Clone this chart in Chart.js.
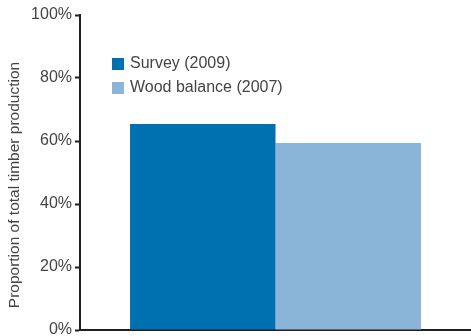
<!DOCTYPE html>
<html>
<head>
<meta charset="utf-8">
<script src="https://cdn.jsdelivr.net/npm/chart.js@4/dist/chart.umd.min.js"></script>
<style>
html,body{margin:0;padding:0;background:#fff;}
#wrap{width:471px;height:336px;position:relative;}
</style>
</head>
<body>
<div id="wrap"><canvas id="c"></canvas></div>
<script>
const categories = [""];
const seriesNames = ["Survey (2009)", "Wood balance (2007)"];
const surveyValues = [65.4];
const woodBalanceValues = [59.4];
const yTicks = [0, 20, 40, 60, 80, 100];
const yTitle = "Proportion of total timber production";
const colors = ["#0071b0", "#8ab4d8"];
const FONT = '"Liberation Sans", Arial, sans-serif';

const legendPlugin = {
  id: 'customLegend',
  afterDraw(chart) {
    const ctx = chart.ctx;
    ctx.save();
    ctx.font = '16px ' + FONT;
    ctx.textBaseline = 'middle';
    chart.data.datasets.forEach((ds, i) => {
      const y = 64 + i * 24;
      ctx.fillStyle = ds.backgroundColor;
      ctx.fillRect(112, y - 6, 12, 12);
      ctx.fillStyle = '#444';
      ctx.fillText(ds.label, 130, y);
    });
    // y-axis title
    ctx.translate(15, 185);
    ctx.rotate(-Math.PI / 2);
    ctx.textAlign = 'center';
    ctx.font = '15.5px ' + FONT;
    ctx.fillStyle = '#444';
    ctx.fillText(yTitle, 0, 0);
    ctx.restore();
  }
};

new Chart(document.getElementById('c'), {
  type: 'bar',
  data: {
    labels: categories,
    datasets: [
      { label: seriesNames[0], data: surveyValues, backgroundColor: colors[0] },
      { label: seriesNames[1], data: woodBalanceValues, backgroundColor: colors[1] }
    ]
  },
  options: {
    responsive: true,
    maintainAspectRatio: false,
    animation: false,
    layout: { padding: { top: 15, right: 0, left: 0, bottom: 0 } },
    datasets: { bar: { categoryPercentage: 0.744, barPercentage: 1.0 } },
    plugins: { legend: { display: false }, tooltip: { enabled: false } },
    scales: {
      x: {
        grid: { display: false, drawTicks: false },
        border: { display: true, color: '#231f20', width: 2 },
        ticks: { display: false },
        afterFit(scale) { scale.height = 6; scale.paddingLeft = 0; scale.paddingRight = 0; }
      },
      y: {
        min: 0, max: 100,
        afterBuildTicks(scale) { scale.ticks = yTicks.map(v => ({ value: v })); },
        grid: { drawOnChartArea: false, drawTicks: true, tickLength: 5, color: '#231f20', tickWidth: 2 },
        border: { display: true, color: '#231f20', width: 2 },
        ticks: {
          color: '#444',
          padding: 3,
          font: { family: FONT, size: 16 },
          callback: v => v + '%'
        },
        afterFit(scale) { scale.width = 80; scale.paddingTop = 0; scale.paddingBottom = 0; }
      }
    }
  },
  plugins: [legendPlugin]
});
</script>
</body>
</html>
